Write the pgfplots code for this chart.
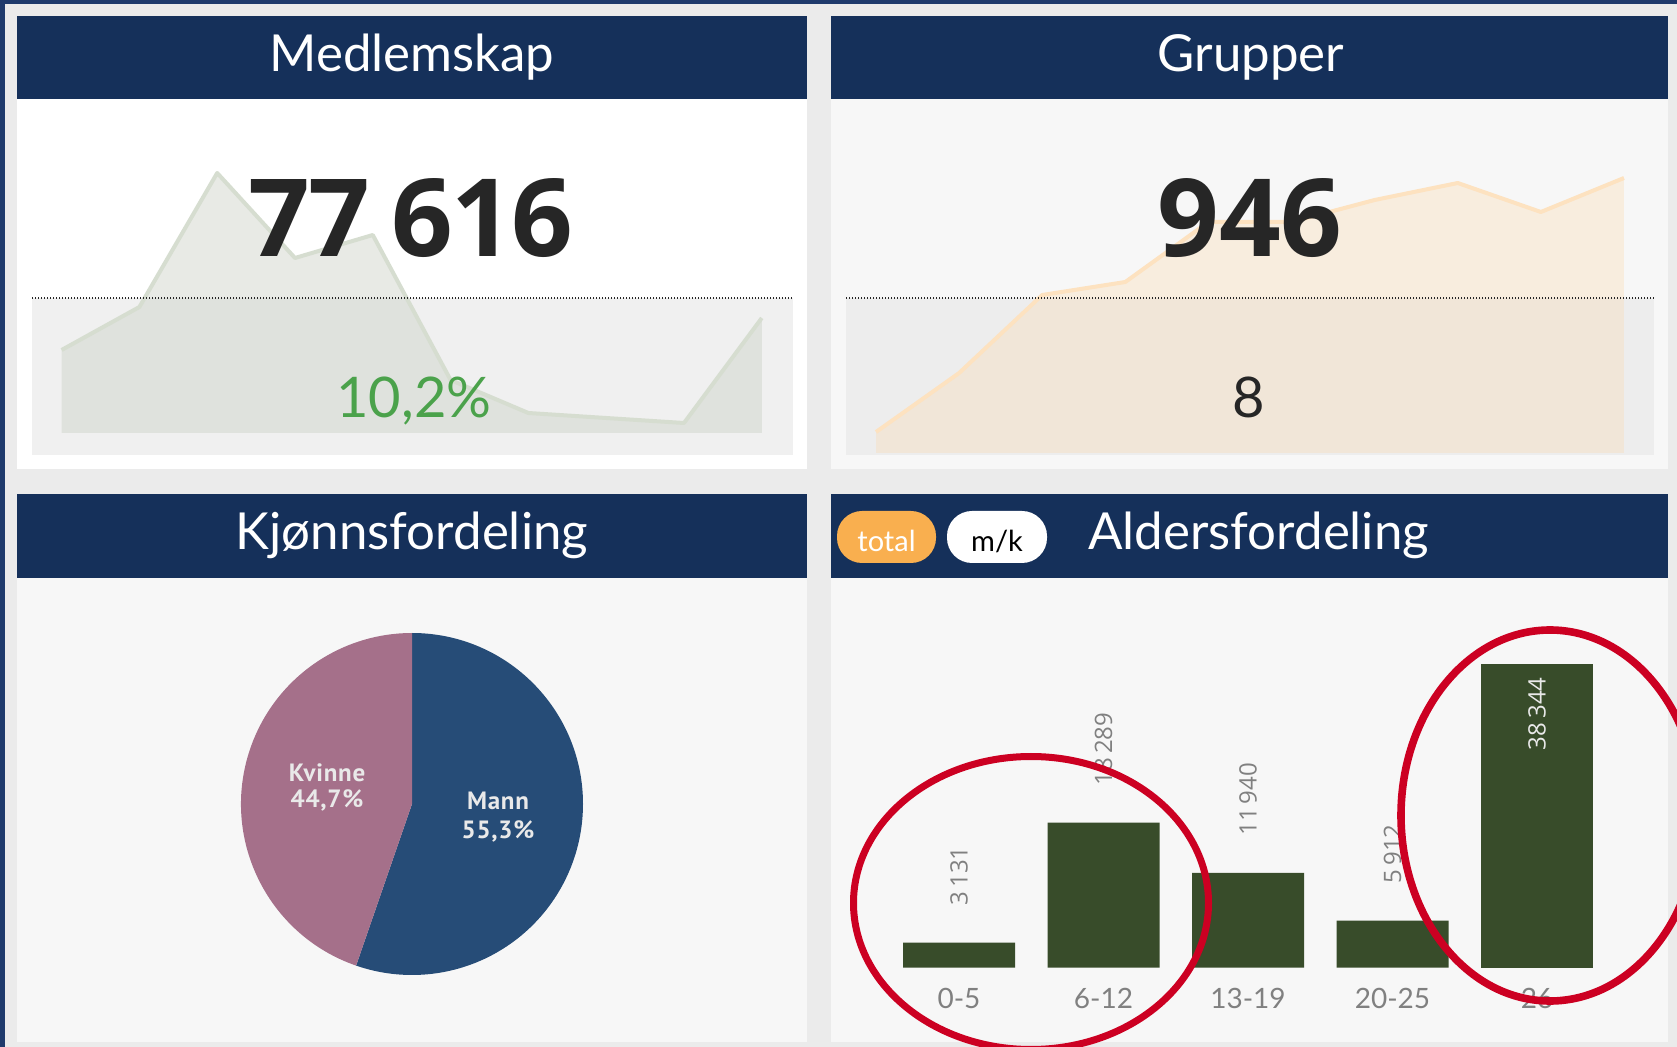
\documentclass[border=0pt]{standalone}
\usepackage{fontspec}
\usepackage{pgfplots}
\pgfplotsset{compat=1.18}
\setmainfont{Open Sans}
\newfontfamily\lato{Lato}
\newfontfamily\pts{PT Sans}[LetterSpace=3.0]
\newfontfamily\bignum{Open Sans}[LetterSpace=-1.5]

\definecolor{outer}{HTML}{1F3A6C}
\definecolor{navy}{HTML}{15305A}
\definecolor{bggray}{HTML}{EBEBEB}
\definecolor{panel}{HTML}{F7F7F7}
\definecolor{boxa}{HTML}{F0F0F0}
\definecolor{boxb}{HTML}{EDEDED}
\definecolor{gline}{HTML}{D6DDD0}
\definecolor{gfill}{HTML}{CCD2C6}
\definecolor{oline}{HTML}{FDE2C0}
\definecolor{ofill}{HTML}{FCD8AC}
\definecolor{numc}{HTML}{262626}
\definecolor{pctgreen}{HTML}{4BA24B}
\definecolor{mann}{HTML}{264C77}
\definecolor{kvinne}{HTML}{A5708A}
\definecolor{barc}{HTML}{384C2A}
\definecolor{labgray}{HTML}{808080}
\definecolor{pill}{HTML}{F9AF4F}
\definecolor{annot}{HTML}{CC0022}
\definecolor{pielab}{HTML}{E9E9E9}

\pgfmathsetmacro{\mannpct}{55.3}
\pgfmathsetmacro{\kvinnepct}{44.7}
\pgfmathsetmacro{\aend}{90-3.6*\mannpct}
\pgfmathsetmacro{\bend}{\aend-3.6*\kvinnepct}
\pgfmathsetmacro{\cx}{cos(\aend)}
\pgfmathsetmacro{\cy}{sin(\aend)}

\begin{document}
\begin{tikzpicture}
\path[use as bounding box] (0pt,0pt) rectangle (838.5pt,-523.5pt);
\clip (0pt,0pt) rectangle (838.5pt,-523.5pt);

% ---------- background and panels (1 unit = 1 px of the reference) ----------
\begin{scope}[x=0.5pt,y=-0.5pt]
  \fill[outer] (0,0) rectangle (1677,1047);
  \fill[bggray] (5,4) rectangle (1677,1047);
  \fill[navy] (17,16) rectangle (807,99);
  \fill[white] (17,99) rectangle (807,469);
  \fill[navy] (831,16) rectangle (1668,99);
  \fill[panel] (831,99) rectangle (1668,469);
  \fill[navy] (17,494) rectangle (807,578);
  \fill[panel] (17,578) rectangle (807,1042);
  \fill[navy] (831,494) rectangle (1668,578);
  \fill[panel] (831,578) rectangle (1668,1042);
  \fill[boxa] (32,298) rectangle (793,455);
  \fill[boxb] (846,298) rectangle (1654,455);
\end{scope}

% ---------- sparkline: Medlemskap ----------
\begin{axis}[hide axis, scale only axis, clip=false,
  at={(30.8pt,-216.5pt)}, anchor=south west,
  width=350.1pt, height=130pt,
  xmin=0, xmax=9, ymin=0, ymax=260]
  \addplot[draw=none, fill=gfill, fill opacity=0.45] coordinates {
    (0,83) (1,126) (2,260) (3,175) (4,198) (5,53) (6,20) (7,15) (8,10) (9,115)
  } \closedcycle;
  \addplot[gline, line width=2pt, line join=round] coordinates {
    (0,83) (1,126) (2,260) (3,175) (4,198) (5,53) (6,20) (7,15) (8,10) (9,115)
  };
\end{axis}

% ---------- sparkline: Grupper ----------
\begin{axis}[hide axis, scale only axis, clip=false,
  at={(438pt,-226.5pt)}, anchor=south west,
  width=374pt, height=137.5pt,
  xmin=0, xmax=9, ymin=0, ymax=275]
  \addplot[draw=none, fill=ofill, fill opacity=0.32] coordinates {
    (0,21) (1,80) (2,158) (3,171) (4,231) (5,231) (6,253) (7,270) (8,241) (9,275)
  } \closedcycle;
  \addplot[oline, line width=2pt, line join=round] coordinates {
    (0,21) (1,80) (2,158) (3,171) (4,231) (5,231) (6,253) (7,270) (8,241) (9,275)
  };
\end{axis}

% ---------- texts of the cards ----------
\begin{scope}[x=0.5pt,y=-0.5pt]
  \draw[numc, line width=1.2pt, dash pattern=on 0.7pt off 0.8pt] (32,298) -- (793,298);
  \draw[numc, line width=1.2pt, dash pattern=on 0.7pt off 0.8pt] (846,298) -- (1654,298);

  \node[anchor=base, white, inner sep=0pt, font=\lato\fontsize{25.5}{30}\selectfont] at (412,72) {Medlemskap};
  \node[anchor=base, white, inner sep=0pt, font=\lato\fontsize{25.5}{30}\selectfont] at (1251,72) {Grupper};
  \node[anchor=base, white, inner sep=0pt, font=\lato\fontsize{25.5}{30}\selectfont] at (412,550) {Kjønnsfordeling};
  \node[anchor=base west, white, inner sep=0pt, font=\lato\fontsize{25.5}{30}\selectfont] at (1088,550) {Aldersfordeling};

  \node[anchor=base, numc, inner sep=0pt, font=\bignum\bfseries\fontsize{54}{60}\selectfont] at (411,257) {77\hspace{0.2em}616};
  \node[anchor=base, numc, inner sep=0pt, font=\bfseries\fontsize{54}{60}\selectfont] at (1250,257) {946};
  \node[anchor=base, pctgreen, inner sep=0pt, font=\lato\fontsize{28}{32}\selectfont] at (414,418) {10,2\%};
  \node[anchor=base, numc, inner sep=0pt, font=\lato\fontsize{28}{32}\selectfont] at (1249,418) {8};

  \fill[pill, rounded corners=12.5pt] (837,511) rectangle (936,563);
  \fill[white, rounded corners=12.5pt] (947,511) rectangle (1047,563);
  \node[anchor=base, white, inner sep=0pt, font=\lato\fontsize{14.5}{16}\selectfont] at (886.5,552) {total};
  \node[anchor=base, black, inner sep=0pt, font=\lato\fontsize{14.5}{16}\selectfont] at (997,552) {m/k};
\end{scope}

% ---------- pie: Kjønnsfordeling ----------
\begin{axis}[hide axis, scale only axis, clip=false,
  at={(206pt,-402pt)}, anchor=center,
  width=171pt, height=171pt,
  xmin=-1, xmax=1, ymin=-1, ymax=1]
  \fill[mann] (axis cs:0,0) -- (axis cs:0,1)
     arc[start angle=90, end angle=\aend, radius=85.5pt] -- cycle;
  \fill[kvinne] (axis cs:0,0) -- (axis cs:\cx,\cy)
     arc[start angle=\aend, end angle=\bend, radius=85.5pt] -- cycle;
\end{axis}

% ---------- bars: Aldersfordeling ----------
\begin{axis}[scale only axis, clip=false,
  at={(443.375pt,-483.75pt)}, anchor=south west,
  width=361.25pt, height=158.3pt,
  xmin=-0.5, xmax=4.5, ymin=0, ymax=40000,
  axis line style={draw=none}, tick style={draw=none}, major tick length=0pt,
  ytick=\empty,
  xtick={0,1,2,3,4},
  xticklabels={0-5,6-12,13-19,20-25,26},
  xticklabel style={font=\lato\fontsize{14}{16}\selectfont, text=labgray, inner sep=0pt, yshift=-10.25pt},
  /pgf/number format/.cd, fixed, precision=0, 1000 sep={\,}, assume math mode=true]
  \addplot[ybar, bar width=56pt, bar shift=0pt, fill=barc, draw=none,
    nodes near coords,
    nodes near coords style={font=\fontsize{12}{14}\selectfont, text=labgray, inner sep=0pt,
      yshift=18.5pt, rotate=90, anchor=west}]
    coordinates {(0,3131) (1,18289) (2,11940) (3,5912)};
  \addplot[ybar, bar width=56pt, bar shift=0pt, fill=barc, draw=none,
    nodes near coords,
    nodes near coords style={font=\fontsize{12}{14}\selectfont, text=pielab, inner sep=0pt,
      yshift=-6.5pt, rotate=90, anchor=east}]
    coordinates {(4,38344)};
\end{axis}

% ---------- pie labels and annotations ----------
\begin{scope}[x=0.5pt,y=-0.5pt]
  \node[anchor=base, pielab, inner sep=0pt, font=\pts\bfseries\fontsize{12.5}{14}\selectfont] at (327,782) {Kvinne};
  \node[anchor=base, pielab, inner sep=0pt, font=\pts\bfseries\fontsize{12.5}{14}\selectfont] at (327,807) {44,7\%};
  \node[anchor=base, pielab, inner sep=0pt, font=\pts\bfseries\fontsize{12.5}{14}\selectfont] at (498,810) {Mann};
  \node[anchor=base, pielab, inner sep=0pt, font=\pts\bfseries\fontsize{12.5}{14}\selectfont] at (498,838) {55,3\%};

  \draw[annot, line width=3.5pt] (1031,903) ellipse [x radius=88.75pt, y radius=73.25pt];
  \draw[annot, line width=3.8pt] (1550,815.5) ellipse [x radius=74.5pt, y radius=92.75pt];
\end{scope}
\end{tikzpicture}
\end{document}
